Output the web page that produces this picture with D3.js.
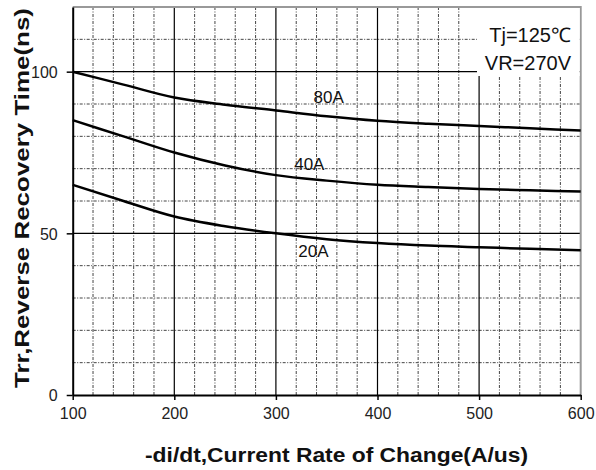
<!DOCTYPE html>
<html>
<head>
<meta charset="utf-8">
<script src="https://cdn.jsdelivr.net/npm/d3@7"></script>
<style>
  body { margin: 0; background: #fff; }
  text { font-family: "Liberation Sans", Arial, sans-serif; }
</style>
</head>
<body>
<div id="chart"></div>
<script>
// data
const rates = [100, 150, 200, 250, 300, 350, 400, 450, 500, 550, 600];
const trr80 = [100, 96, 92, 89.8, 88, 86.2, 84.8, 83.9, 83.2, 82.5, 81.8];
const trr40 = [85, 80, 75, 71, 68, 66.3, 65, 64.3, 63.7, 63.3, 62.9];
const trr20 = [65, 60, 55.2, 52.2, 50, 48.2, 47, 46.2, 45.7, 45.2, 44.8];
const seriesNames = ["80A", "40A", "20A"];
const labelAt = [[337, 90.3], [318, 69.5], [322, 42.8]];
const xTicks = [100, 200, 300, 400, 500, 600];
const yTicks = [0, 50, 100];
const noteLines = ["Tj=125\u2103", "VR=270V"];

const width = 596, height = 470;
const margin = { top: 7, right: 15.3, bottom: 75, left: 72.7 };

const svg = d3.select("#chart").append("svg")
  .attr("width", width)
  .attr("height", height);

const x = d3.scaleLinear().domain([100, 600]).range([margin.left, width - margin.right]);
const y = d3.scaleLinear().domain([0, 120]).range([height - margin.bottom, margin.top]);

// minor grid (dash-dot)
const grid = svg.append("g");
const dash = "3,1.5,1,1.5";
grid.selectAll(".vx").data(d3.range(120, 600, 20).filter(v => v % 100))
  .join("line")
  .attr("x1", d => x(d)).attr("x2", d => x(d))
  .attr("y1", y(0)).attr("y2", y(120))
  .attr("stroke", "#444").attr("stroke-width", 1).attr("stroke-dasharray", dash);
grid.selectAll(".hy").data(d3.range(10, 120, 10).filter(v => v % 50))
  .join("line")
  .attr("x1", x(100)).attr("x2", x(600))
  .attr("y1", d => y(d)).attr("y2", d => y(d))
  .attr("stroke", "#444").attr("stroke-width", 1).attr("stroke-dasharray", dash);

// major grid (solid)
grid.selectAll(".mx").data([200, 300, 400, 500])
  .join("line")
  .attr("x1", d => x(d)).attr("x2", d => x(d))
  .attr("y1", y(0)).attr("y2", y(120))
  .attr("stroke", "#000").attr("stroke-width", 1.2);
grid.selectAll(".my").data([50, 100])
  .join("line")
  .attr("x1", x(100)).attr("x2", x(600))
  .attr("y1", d => y(d)).attr("y2", d => y(d))
  .attr("stroke", "#000").attr("stroke-width", 1.2);

// frame top / right
svg.append("path")
  .attr("d", `M${x(100)},${y(120)}H${x(600)}V${y(0)}`)
  .attr("fill", "none").attr("stroke", "#999").attr("stroke-width", 2);

// note box hides the grid behind it
svg.append("rect")
  .attr("x", 477).attr("y", y(120) + 1)
  .attr("width", x(600) - 478).attr("height", 68)
  .attr("fill", "#fff");
noteLines.forEach((t, i) => {
  svg.append("text")
    .attr("x", 571).attr("y", 42 + i * 28)
    .attr("text-anchor", "end")
    .attr("font-size", 20)
    .attr("fill", "#111")
    .text(t);
});

// axes
const xAxis = svg.append("g")
  .attr("transform", `translate(0,${y(0)})`)
  .call(d3.axisBottom(x).tickValues(xTicks).tickSize(5).tickSizeOuter(0).tickPadding(8));
const yAxis = svg.append("g")
  .attr("transform", `translate(${x(100)},0)`)
  .call(d3.axisLeft(y).tickValues(yTicks).tickSize(6).tickSizeOuter(0).tickPadding(9));
[xAxis, yAxis].forEach(a => {
  a.select(".domain").attr("stroke", "#000").attr("stroke-width", 2);
  a.selectAll(".tick line").attr("stroke", "#000").attr("stroke-width", 1.5);
  a.selectAll(".tick text")
    .attr("font-family", "'Liberation Sans', Arial, sans-serif")
    .attr("font-size", 16).attr("fill", "#222");
});
yAxis.selectAll(".tick text").attr("dy", "0.36em");

// curves
const line = d3.line()
  .x((d, i) => x(rates[i]))
  .y(d => y(d))
  .curve(d3.curveMonotoneX);

[trr80, trr40, trr20].forEach((s, k) => {
  svg.append("path")
    .datum(s)
    .attr("d", line)
    .attr("fill", "none")
    .attr("stroke", "#000")
    .attr("stroke-width", 2.5);
  svg.append("text")
    .attr("x", x(labelAt[k][0])).attr("y", y(labelAt[k][1]))
    .attr("font-size", 17)
    .attr("fill", "#111")
    .text(seriesNames[k]);
});

// axis titles
svg.append("text")
  .attr("x", 145).attr("y", 462)
  .attr("font-family", "'Open Sans', 'Noto Sans', sans-serif")
  .attr("font-weight", "bold")
  .attr("font-size", 20)
  .attr("textLength", 383)
  .attr("lengthAdjust", "spacingAndGlyphs")
  .attr("fill", "#111")
  .text("-di/dt,Current Rate of Change(A/us)");

svg.append("text")
  .attr("transform", "translate(29,388) rotate(-90)")
  .attr("font-weight", "bold")
  .attr("font-size", 20)
  .attr("textLength", 380)
  .attr("lengthAdjust", "spacingAndGlyphs")
  .attr("fill", "#111")
  .text("Trr,Reverse Recovery Time(ns)");
</script>
</body>
</html>
